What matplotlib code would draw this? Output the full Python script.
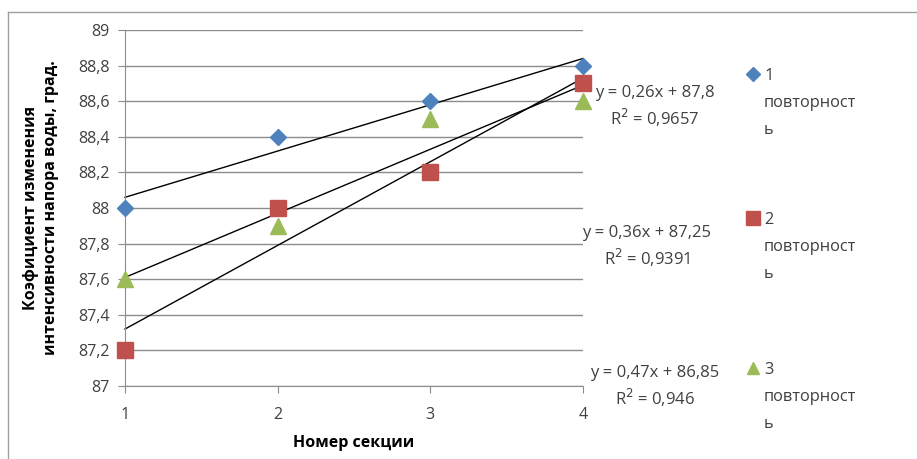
import numpy as np
import matplotlib
matplotlib.use("Agg")
import matplotlib.pyplot as plt
from matplotlib.lines import Line2D

plt.rcParams['font.family'] = ['Open Sans', 'DejaVu Sans']

x = [1, 2, 3, 4]
s1 = [88.0, 88.4, 88.6, 88.8]
s2 = [87.2, 88.0, 88.2, 88.7]
s3 = [87.6, 87.9, 88.5, 88.6]
series_names = ["1\nповторност\nь", "2\nповторност\nь", "3\nповторност\nь"]
equations = ["y = 0,26x + 87,8\nR$^2$ = 0,9657",
             "y = 0,36x + 87,25\nR$^2$ = 0,9391",
             "y = 0,47x + 86,85\nR$^2$ = 0,946"]
yticks = [87, 87.2, 87.4, 87.6, 87.8, 88, 88.2, 88.4, 88.6, 88.8, 89]
ytick_labels = ["87", "87,2", "87,4", "87,6", "87,8", "88", "88,2", "88,4", "88,6", "88,8", "89"]
xlabel = "Номер секции"
ylabel = "Коэфициент изменения\nинтенсивности напора воды, град."

colors = ["#4F81BD", "#C0504D", "#9BBB59"]
markers = ["D", "s", "^"]
msizes = [8, 12, 11]

fig = plt.figure(figsize=(9.17, 4.59), dpi=100)
# chart area border (top and left visible)
fig.add_artist(Line2D([8/917, 1], [1-12/459, 1-12/459], color="#A0A0A0", lw=1))
fig.add_artist(Line2D([8/917, 8/917], [0, 1-12/459], color="#A0A0A0", lw=1))

ax = fig.add_axes([125/917, 1-386/459, (583-125)/917, (386-30)/459])
ax.set_xlim(1, 4)
ax.set_ylim(87, 89)
ax.set_yticks(yticks)
ax.set_yticklabels(ytick_labels)
ax.set_xticks(x)
ax.grid(axis='y', color="#8C8C8C", lw=1)
ax.set_axisbelow(True)
for sp in ["top", "right"]:
    ax.spines[sp].set_visible(False)
for sp in ["left", "bottom"]:
    ax.spines[sp].set_color("#8C8C8C")
ax.tick_params(axis='y', direction='out', length=5, color="#8C8C8C", labelsize=11.5, pad=6, labelcolor="#404040")
ax.tick_params(axis='x', direction='out', length=5, color="#8C8C8C", labelsize=11.5, pad=10, labelcolor="#404040")

xs = np.array(x, dtype=float)
for s in [s1, s2, s3]:
    k, b = np.polyfit(xs, s, 1)
    ax.plot(xs, k*xs + b, color="black", lw=1, zorder=2, clip_on=False)
for s, c, m, ms in zip([s1, s2, s3], colors, markers, msizes):
    ax.plot(xs, s, linestyle="none", marker=m, color=c, markersize=ms, zorder=3, clip_on=False)

ax.set_xlabel(xlabel, fontsize=11.5, fontweight="bold", labelpad=9)
ax.set_ylabel(ylabel, fontsize=11.5, fontweight="bold", labelpad=14, linespacing=1.3)

# trendline equations
eq_pos = [(655, 107), (647, 247), (655, 387)]
for (px, py), t in zip(eq_pos, equations):
    fig.text(px/917, 1-py/459, t, ha="center", va="center", fontsize=12,
             color="#404040", linespacing=1.3)

# legend
leg_pos = [74, 218, 368]
for py, c, m, ms, name in zip(leg_pos, colors, markers, msizes, series_names):
    fig.add_artist(Line2D([753/917], [1-py/459], marker=m, color=c,
                          markersize=ms*0.85, linestyle="none"))
    fig.text(764/917, 1-(py-6)/459, name, ha="left", va="top", fontsize=11.8,
             color="#404040", linespacing=1.9)

fig.savefig("out.png", dpi=100)
